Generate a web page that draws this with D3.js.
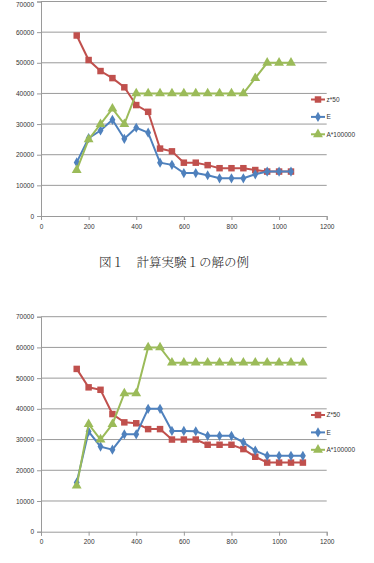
<!DOCTYPE html>
<html><head><meta charset="utf-8">
<script src="https://cdn.jsdelivr.net/npm/d3@7"></script>
<style>
html,body{margin:0;padding:0;background:#fff;}
svg{display:block;}
</style></head>
<body>
<svg id="c" width="374" height="563"></svg>
<script>
const xTicks = [0,200,400,600,800,1000,1200];
const yTicks = [0,10000,20000,30000,40000,50000,60000,70000];

const x1 = [150,200,250,300,350,400,450,500,550,600,650,700,750,800,850,900,950,1000,1050];
const z1 = [58900,50900,47300,45000,42000,36200,34000,22000,21100,17400,17400,16600,15600,15600,15600,15000,14500,14500,14500];
const e1 = [17500,25400,27900,31400,25200,28800,27200,17400,16700,14000,14000,13300,12300,12300,12300,13600,14500,14500,14500];
const a1 = [15000,25000,30000,35000,30000,40000,40000,40000,40000,40000,40000,40000,40000,40000,40000,45000,50000,50000,50000];

const x2 = [150,200,250,300,350,400,450,500,550,600,650,700,750,800,850,900,950,1000,1050,1100];
const z2 = [53000,47000,46200,38300,35600,35300,33400,33400,30000,30000,30000,28300,28300,28300,26900,24400,22500,22500,22500,22500];
const e2 = [16000,32600,27700,26700,31700,31700,40000,40000,32800,32800,32700,31200,31200,31200,29100,26400,24700,24700,24700,24700];
const a2 = [15000,35000,30000,35000,45000,45000,60000,60000,55000,55000,55000,55000,55000,55000,55000,55000,55000,55000,55000,55000];

const names1 = ["z*50","E","A*100000"];
const names2 = ["Z*50","E","A*100000"];
const colors = ["#C0504D","#4F81BD","#9BBB59"];
const caption1 = "図１　計算実験１の解の例";

const svg = d3.select("#c");

function chart(yTop, yBottom, xs, series, names, legendY) {
  const g = svg.append("g");
  const x = d3.scaleLinear().domain([0,1200]).range([41,326.7]);
  const y = d3.scaleLinear().domain([0,70000]).range([yBottom,yTop]);
  g.selectAll("line.grid").data(yTicks.filter(d=>d>0)).join("line")
    .attr("x1",41).attr("x2",326.7).attr("y1",d=>y(d)).attr("y2",d=>y(d))
    .attr("stroke","#9a9a9a").attr("stroke-width",1);
  const ax = d3.axisBottom(x).tickValues(xTicks).tickSize(4).tickPadding(4).tickFormat(d3.format("d"));
  const ay = d3.axisLeft(y).tickValues(yTicks).tickSize(4).tickPadding(3).tickFormat(d3.format("d"));
  const gx = g.append("g").attr("transform",`translate(0,${yBottom})`).call(ax);
  const gy = g.append("g").attr("transform",`translate(41,0)`).call(ay);
  [gx,gy].forEach(a=>{
    a.select(".domain").attr("stroke","#9a9a9a");
    a.selectAll(".tick line").attr("stroke","#9a9a9a");
    a.selectAll("text").attr("fill","#333").style("font-family","'Liberation Sans',Arial,sans-serif").style("font-size","6.5px");
  });
  // keep the topmost label inside the picture
  gy.selectAll(".tick text").filter(d=>y(d)<4).attr("dy","0.75em");
  const sym = [d3.symbolSquare, d3.symbolDiamond, d3.symbolTriangle];
  const sizes = [42, 30, 42];
  series.forEach((vals,i)=>{
    const pts = xs.map((d,j)=>[d,vals[j]]);
    g.append("path").datum(pts)
      .attr("fill","none").attr("stroke",colors[i]).attr("stroke-width",2)
      .attr("d",d3.line().x(d=>x(d[0])).y(d=>y(d[1])));
    g.selectAll(null).data(pts).join("path")
      .attr("transform",d=>`translate(${x(d[0])},${y(d[1])})`)
      .attr("d",d3.symbol().type(sym[i]).size(sizes[i]))
      .attr("fill",colors[i]);
    const ly = legendY + i*17.4;
    g.append("line").attr("x1",311).attr("x2",325).attr("y1",ly).attr("y2",ly)
      .attr("stroke",colors[i]).attr("stroke-width",2);
    g.append("path").attr("transform",`translate(318,${ly})`)
      .attr("d",d3.symbol().type(sym[i]).size(sizes[i])).attr("fill",colors[i]);
    g.append("text").attr("x",326.5).attr("y",ly).attr("dy","0.35em")
      .style("font-family","'Liberation Sans',Arial,sans-serif").style("font-size","6.5px")
      .attr("fill","#333").text(names[i]);
  });
}

chart(1.5, 216, x1, [z1,e1,a1], names1, 99.5);
chart(316.7, 531.7, x2, [z2,e2,a2], names2, 415);

svg.append("text").attr("x",174).attr("y",263).attr("dy","0.35em").attr("text-anchor","middle")
  .style("font-family","'Noto Serif CJK JP','Noto Sans CJK JP',serif").style("font-size","12.5px")
  .style("font-weight","300").attr("fill","#222").text(caption1);
</script>
</body></html>
